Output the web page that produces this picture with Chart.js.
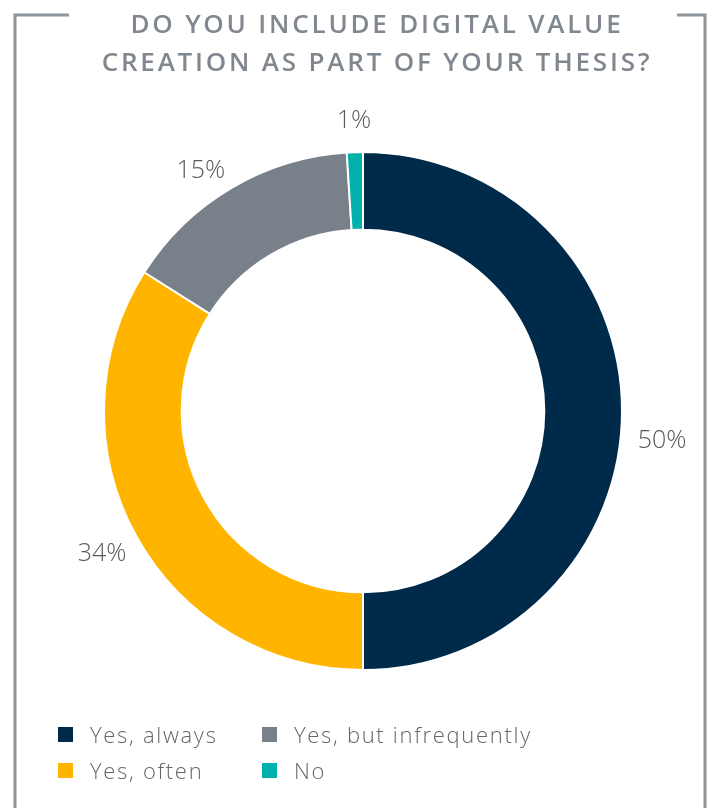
<!DOCTYPE html>
<html>
<head>
<meta charset="utf-8">
<script src="https://cdn.jsdelivr.net/npm/chart.js@4"></script>
<style>
  html, body { margin: 0; padding: 0; background: #fff; }
  #wrap { position: relative; width: 710px; height: 808px; overflow: hidden; }
  #chart { position: absolute; left: 0; top: 0; }
  #title {
    position: absolute; left: 40px; width: 674px; top: 4px;
    text-align: center; font-family: "Open Sans", sans-serif; font-weight: 600;
    font-size: 26px; line-height: 38px; letter-spacing: 2.8px; color: #80878e;
  }
  #legend {
    position: absolute; left: 58px; top: 718px;
    display: grid; grid-template-columns: 204px auto; row-gap: 4px;
    font-family: "Open Sans", sans-serif; font-weight: 300; font-size: 22px;
    letter-spacing: 1.7px; color: #666;
  }
  .item { display: flex; align-items: center; height: 32px; }
  .box { width: 15px; height: 15px; margin-right: 17px; }
</style>
</head>
<body>
<div id="wrap">
  <canvas id="chart" width="710" height="808"></canvas>
  <div id="title">DO YOU INCLUDE DIGITAL VALUE<br>CREATION AS PART OF YOUR THESIS?</div>
  <div id="legend"></div>
</div>
<script>
// answer shares, clockwise from 12 o'clock
var answers = ["Yes, always", "Yes, often", "Yes, but infrequently", "No"];
var shares = [50, 34, 15, 1];
var colors = ["#002a4a", "#ffb500", "#78818a", "#00b0aa"];
// legend reads down the columns, not across
var legendOrder = [0, 2, 1, 3];

// bracket-style frame around the panel
var framePlugin = {
    id: "frame",
    beforeDraw: function (chart) {
        var ctx = chart.ctx;
        ctx.save();
        ctx.strokeStyle = "#8d949a";
        ctx.lineWidth = 3;
        ctx.beginPath();
        ctx.moveTo(69, 15);
        ctx.lineTo(15, 15);
        ctx.lineTo(15, 808);
        ctx.moveTo(677, 15);
        ctx.lineTo(705, 15);
        ctx.lineTo(705, 808);
        ctx.stroke();
        ctx.restore();
    }
};

// percentage labels just outside each slice, with a small nudge each
var labelNudge = [[8, 30], [-6, 3], [-14, 10], [0, 1]];
var outsideLabels = {
    id: "outsideLabels",
    afterDatasetsDraw: function (chart) {
        var ctx = chart.ctx;
        var meta = chart.getDatasetMeta(0);
        ctx.save();
        ctx.font = "300 25px 'Open Sans', sans-serif";
        ctx.fillStyle = "#5a5a5a";
        ctx.textAlign = "center";
        ctx.textBaseline = "middle";
        meta.data.forEach(function (arc, i) {
            var mid = (arc.startAngle + arc.endAngle) / 2;
            var r = arc.outerRadius + 32;
            var x = arc.x + Math.cos(mid) * r + labelNudge[i][0];
            var y = arc.y + Math.sin(mid) * r + labelNudge[i][1];
            ctx.fillText(shares[i] + "%", x, y);
        });
        ctx.restore();
    }
};

var ctx = document.getElementById("chart").getContext("2d");
var donut = new Chart(ctx, {
    type: "doughnut",
    data: {
        labels: answers,
        datasets: [{
            data: shares,
            backgroundColor: colors,
            borderColor: "#ffffff",
            borderWidth: 2
        }]
    },
    options: {
        responsive: false,
        animation: false,
        cutout: "70%",
        layout: { padding: { left: 103, right: 87, top: 151, bottom: 137 } },
        plugins: {
            legend: { display: false },
            tooltip: { enabled: false }
        }
    },
    plugins: [framePlugin, outsideLabels]
});

var legend = document.getElementById("legend");
legendOrder.forEach(function (i) {
    var item = document.createElement("div");
    item.className = "item";
    item.innerHTML = '<span class="box" style="background:' + colors[i] + '"></span>' + answers[i];
    legend.appendChild(item);
});
</script>
</body>
</html>
